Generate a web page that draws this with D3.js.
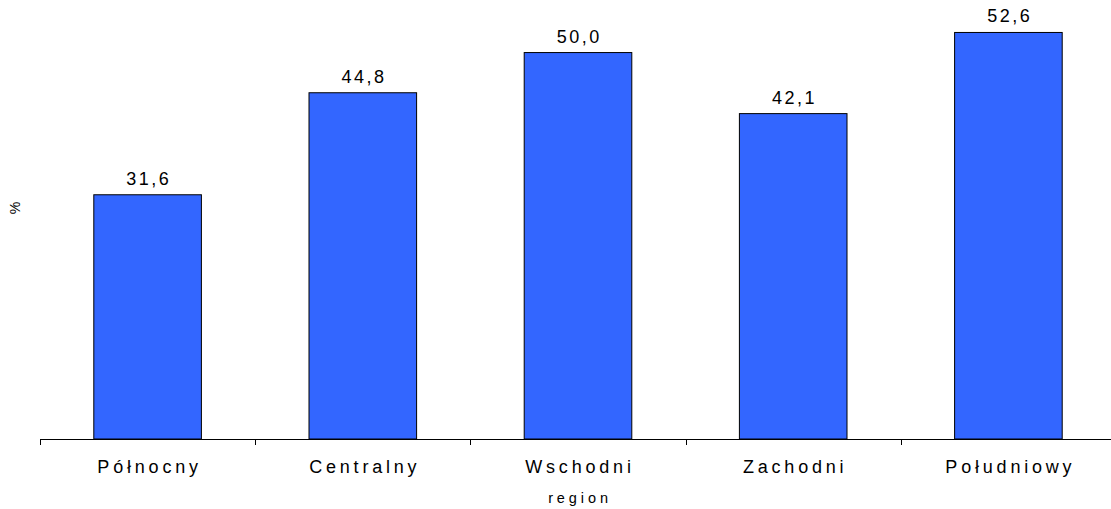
<!DOCTYPE html>
<html>
<head>
<meta charset="utf-8">
<script src="https://cdn.jsdelivr.net/npm/d3@7"></script>
<style>
  html, body { margin: 0; padding: 0; background: #fff; }
  svg { display: block; font-family: Arial, "Liberation Sans", sans-serif; }
</style>
</head>
<body>
<svg id="chart" width="1111" height="509"></svg>
<script>
const categories = ["Północny", "Centralny", "Wschodni", "Zachodni", "Południowy"];
const values = [31.6, 44.8, 50.0, 42.1, 52.6];
const valueLabels = ["31,6", "44,8", "50,0", "42,1", "52,6"];
const yTitle = "%";
const xTitle = "region";

const svg = d3.select("#chart");
const x0 = 40, x1 = 1116, baseY = 439;

const x = d3.scaleBand().domain(categories).range([x0, x1]).paddingInner(0.5).paddingOuter(0.25);
const y = d3.scaleLinear().domain([0, 56.8]).range([baseY, 0]);

// bars
svg.selectAll("rect.bar").data(values).join("rect")
  .attr("class", "bar")
  .attr("x", (d, i) => x(categories[i]))
  .attr("y", d => y(d))
  .attr("width", x.bandwidth())
  .attr("height", d => baseY - y(d))
  .attr("fill", "#3366FF")
  .attr("stroke", "#000")
  .attr("stroke-width", 1);

// value labels
svg.selectAll("text.val").data(values).join("text")
  .attr("class", "val")
  .attr("x", (d, i) => x(categories[i]) + x.bandwidth() / 2 + 1.25)
  .attr("y", d => y(d) - 10)
  .attr("text-anchor", "middle")
  .attr("font-size", 18)
  .attr("letter-spacing", 2.5)
  .attr("fill", "#000")
  .text((d, i) => valueLabels[i]);

// x axis line and ticks at category boundaries
const axisG = svg.append("g");
axisG.append("line")
  .attr("x1", x0).attr("x2", x1)
  .attr("y1", baseY + 0.5).attr("y2", baseY + 0.5)
  .attr("stroke", "#000").attr("stroke-width", 1);
const bounds = d3.range(categories.length + 1).map(i => x0 + i * (x1 - x0) / categories.length);
axisG.selectAll("line.tick").data(bounds).join("line")
  .attr("class", "tick")
  .attr("x1", d => Math.round(d) + 0.5).attr("x2", d => Math.round(d) + 0.5)
  .attr("y1", baseY).attr("y2", baseY + 6)
  .attr("stroke", "#000").attr("stroke-width", 1);

// category labels
svg.selectAll("text.cat").data(categories).join("text")
  .attr("class", "cat")
  .attr("x", d => x(d) + x.bandwidth() / 2 + 2)
  .attr("y", 472.5)
  .attr("text-anchor", "middle")
  .attr("font-size", 18)
  .attr("letter-spacing", 3.8)
  .attr("fill", "#000")
  .text(d => d);

// axis titles
svg.append("text")
  .attr("x", (x0 + x1) / 2 + 2)
  .attr("y", 502.5)
  .attr("text-anchor", "middle")
  .attr("font-size", 14.5)
  .attr("letter-spacing", 3.9)
  .attr("fill", "#000")
  .text(xTitle);

svg.append("text")
  .attr("transform", "translate(20,208) rotate(-90)")
  .attr("text-anchor", "middle")
  .attr("font-size", 14)
  .attr("fill", "#000")
  .text(yTitle);
</script>
</body>
</html>
